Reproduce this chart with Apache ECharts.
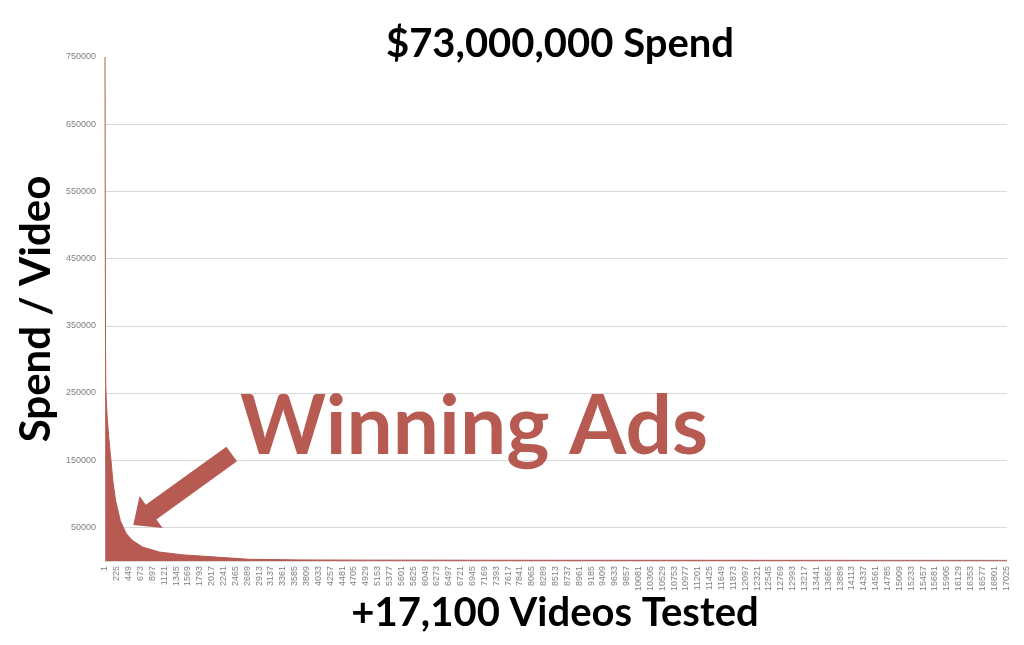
<!DOCTYPE html>
<html><head><meta charset="utf-8">
<script src="https://cdn.jsdelivr.net/npm/echarts@6/dist/echarts.min.js"></script>
<style>html,body{margin:0;padding:0;background:#fff}#c{width:1024px;height:645px}</style>
</head><body><div id="c"></div>
<script>
// Video rank (1-based, as on the x axis) and spend per video
const videoIndex = [1, 5, 10, 15, 21, 41, 71, 101, 126, 151, 201, 291, 401, 521, 711, 1031, 1451, 2101, 2731, 3701, 5001, 8001, 12001, 17041];
const spendPerVideo = [750000, 537000, 330000, 265000, 250000, 215000, 185000, 160000, 140000, 118000, 90000, 60000, 41000, 30500, 20700, 13300, 9300, 5800, 2500, 1600, 1300, 1100, 1000, 900];
const xLabelStep = 224;          // labels 1, 225, 449, ... 17025
const yMax = 750000;
const titleText = '$73,000,000 Spend';
const yName = 'Spend / Video';
const xName = '+17,100 Videos Tested';
const noteText = 'Winning Ads';
const red = '#b65a52';

const chart = echarts.init(document.getElementById('c'));
const seriesData = videoIndex.map((v, i) => [v - 1, spendPerVideo[i]]);
const bigFont = (px) => 'bold ' + px + 'px Lato, "Open Sans", sans-serif';
chart.setOption({
  animation: false,
  grid: { left: 105, right: 17, top: 57, bottom: 84 },
  xAxis: {
    type: 'value', min: 0, max: 17040, interval: xLabelStep,
    axisLine: { show: true, lineStyle: { color: '#d9d9d9' } },
    axisTick: { show: false },
    splitLine: { show: false },
    axisLabel: { rotate: 90, fontSize: 9, color: '#7f7f7f', fontFamily: 'Liberation Sans', margin: 5,
      showMaxLabel: false, formatter: v => String(v + 1) }
  },
  yAxis: {
    type: 'value', min: 0, max: yMax, interval: 50000,
    axisLine: { show: false }, axisTick: { show: false },
    splitLine: { show: true, showMinLine: false, showMaxLine: false,
      lineStyle: { color: ['#d9d9d9', 'rgba(0,0,0,0)'], width: 1 } },
    axisLabel: { fontSize: 9, color: '#7f7f7f', fontFamily: 'Liberation Sans', margin: 9,
      formatter: v => (v % 100000 === 50000 || v === yMax) ? String(v) : '' }
  },
  series: [{
    type: 'line', data: seriesData, showSymbol: false, symbol: 'none',
    lineStyle: { color: red, width: 1 },
    areaStyle: { color: red, opacity: 1 },
    z: 3
  }],
  graphic: [
    { type: 'text', x: 560, y: 44, style: { text: titleText, fill: '#000',
      font: bigFont(40), textAlign: 'center', textVerticalAlign: 'middle' }, z: 10 },
    { type: 'text', x: 36, y: 309, rotation: Math.PI / 2, style: { text: yName, fill: '#000',
      font: bigFont(42), textAlign: 'center', textVerticalAlign: 'middle' }, z: 10 },
    { type: 'text', x: 555, y: 613, style: { text: xName, fill: '#000',
      font: bigFont(40), textAlign: 'center', textVerticalAlign: 'middle' }, z: 10 },
    { type: 'text', x: 474, y: 428, style: { text: noteText, fill: red,
      font: bigFont(82), textAlign: 'center', textVerticalAlign: 'middle' }, z: 10 },
    { type: 'polygon', shape: { points: [[237, 461.3], [226.4, 446.7], [145.8, 504.8], [139.6, 496.1], [133.3, 525], [162.6, 528.1], [156.4, 519.4]] },
      style: { fill: red }, z: 10 }
  ]
});
</script></body></html>
